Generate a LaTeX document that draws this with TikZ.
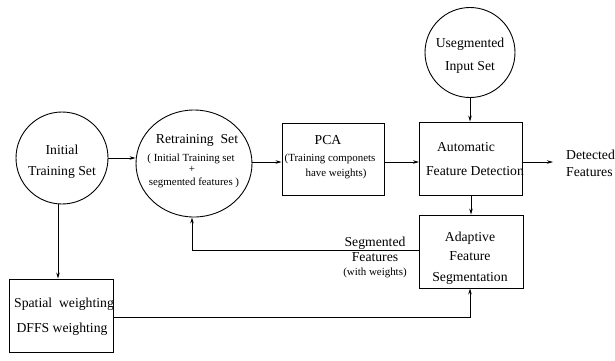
\documentclass[tikz,border=0pt]{standalone}
\usepackage{fontspec}
\setmainfont{Liberation Serif}
\usetikzlibrary{arrows.meta,shapes.geometric}
\begin{document}
\begin{tikzpicture}[x=1pt,y=-1pt,
  txt/.style={inner sep=0pt, text height=9pt, text depth=0pt, font=\fontsize{13.7}{16}\selectfont},
  sm/.style={inner sep=0pt, text height=7.2pt, text depth=0pt, font=\fontsize{10.9}{13}\selectfont},
  shp/.style={draw, line width=0.9pt, inner sep=0pt},
  box/.style={shp, rectangle},
  arr/.style={-{Stealth[length=6pt,width=3.5pt]}, line width=0.8pt}]
\useasboundingbox (0,0) rectangle (615,360);
% shapes
\node[shp,circle,minimum size=92pt] (init) at (62,158) {};
\node[shp,ellipse,minimum width=116pt,minimum height=107pt] (retrain) at (194,163.5) {};
\node[shp,circle,minimum size=90pt] (useg) at (470,52.5) {};
\node[box,minimum width=102pt,minimum height=72pt] (pca) at (333,159) {};
\node[box,minimum width=103pt,minimum height=73pt] (auto) at (471,158.5) {};
\node[box,minimum width=104pt,minimum height=73pt] (adapt) at (471,251.5) {};
\node[box,minimum width=104pt,minimum height=73pt] (spatial) at (61,315.5) {};
% texts
\node[txt] (t1) at (62,150) {Initial};
\node[txt] (t2) at (62,171) {Training Set};
\node[txt] (t3) at (197,139) {Retraining\ \ Set};
\node[sm] (t4) at (191,158) {( Initial Training set};
\node[sm] (t5) at (192,169) {+};
\node[sm] (t6) at (194,182) {segmented features )};
\node[txt] (t7) at (470,43) {Usegmented};
\node[txt] (t8) at (470,66) {Input Set};
\node[txt] (t9) at (328,140) {PCA};
\node[sm] (t10) at (330,158) {(Training componets};
\node[sm] (t11) at (336,173) {have weights)};
\node[txt] (t12) at (466,147) {Automatic};
\node[txt] (t13) at (475,171) {Feature Detection};
\node[txt,anchor=west] (det1) at (566,155) {Detected};
\node[txt,anchor=west] (det2) at (566,172) {Features};
\node[txt] (t14) at (470,237) {Adaptive};
\node[txt] (t15) at (470,256) {Feature};
\node[txt] (t16) at (470,277) {Segmentation};
\node[txt] (t17) at (375,242) {Segmented};
\node[txt] (t18) at (375,257) {Features};
\node[sm] (t19) at (375,272) {(with weights)};
\node[txt] (t20) at (64,303) {Spatial\ \ weighting};
\node[txt] (t21) at (62,328) {DFFS weighting};
% connectors
\coordinate (ly) at (0,162);
\draw[arr] (init.east) -- (init.east -| retrain.west);
\draw[arr] (retrain.east |- ly) -- (pca.west |- ly);
\draw[arr] (pca.east |- ly) -- (auto.west |- ly);
\draw[arr] (auto.east |- ly) -- ([xshift=-13pt]det1.west |- ly);
\draw[arr] (useg.south) -- (useg.south |- auto.north);
\draw[arr] (auto.south) -- (adapt.north);
\draw[arr] ([yshift=1.5pt]adapt.west) -| ([xshift=-2pt]retrain.south);
\draw[arr] ([yshift=-1.5pt]spatial.east) -| ([xshift=-1pt]adapt.south);
\draw[arr] ([xshift=-4pt]init.south) -- ([xshift=-4pt]init.south |- spatial.north);
\end{tikzpicture}
\end{document}
